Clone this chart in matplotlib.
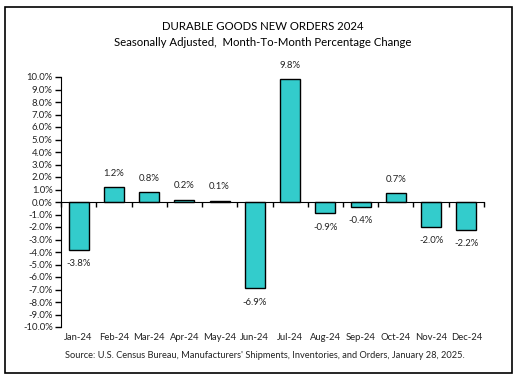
import numpy as np
import matplotlib.pyplot as plt
from matplotlib.patches import Rectangle
from matplotlib.ticker import FuncFormatter, MultipleLocator
import matplotlib.transforms as mtransforms

plt.rcParams['font.family'] = ['Lato', 'DejaVu Sans']

# Data
months = ["Jan-24", "Feb-24", "Mar-24", "Apr-24", "May-24", "Jun-24",
          "Jul-24", "Aug-24", "Sep-24", "Oct-24", "Nov-24", "Dec-24"]
change = [-3.8, 1.2, 0.8, 0.2, 0.1, -6.9, 9.8, -0.9, -0.4, 0.7, -2.0, -2.2]

title1 = "DURABLE GOODS NEW ORDERS 2024"
title2 = "Seasonally Adjusted,  Month-To-Month Percentage Change"
source = "Source: U.S. Census Bureau, Manufacturers' Shipments, Inventories, and Orders, January 28, 2025."

W, H = 519, 379
fig = plt.figure(figsize=(W / 100, H / 100), dpi=100)

# outer frame
fig.patches.append(Rectangle((5 / W, 1 - 373 / H), 507 / W, 366 / H,
                             transform=fig.transFigure, fill=False,
                             edgecolor='black', linewidth=1.2))

ax = fig.add_axes([61 / W, 1 - 327 / H, 423 / W, 250 / H])

x = np.arange(len(months))
ax.bar(x, change, width=0.57, color='#33CCCC', edgecolor='black', linewidth=1.0, zorder=3)

ax.set_xlim(-0.5, len(months) - 0.5)
ax.set_ylim(-10, 10)
ax.yaxis.set_major_locator(MultipleLocator(1))
ax.yaxis.set_major_formatter(FuncFormatter(lambda v, p: f"{v:.1f}%"))
ax.tick_params(axis='y', direction='out', length=4, width=1, labelsize=6.8,
               labelcolor='#222222', pad=2)

# x axis on the zero line, ticks at category boundaries
ax.spines['bottom'].set_position(('data', 0))
ax.spines['top'].set_visible(False)
ax.spines['right'].set_visible(False)
ax.spines['bottom'].set_zorder(4)
ax.set_xticks(np.arange(-0.5, len(months), 1.0))
ax.set_xticklabels([])
ax.tick_params(axis='x', direction='out', length=3.5, width=1)

trans = mtransforms.blended_transform_factory(ax.transData, ax.transAxes)
for i, m in enumerate(months):
    ax.text(i, -0.04, m, transform=trans, ha='center', va='center',
            fontsize=6.8, color='#222222')

for i, v in enumerate(change):
    off = 10 if v >= 0 else -10
    ax.annotate(f"{v:.1f}%", (i, v), xytext=(0, off), textcoords='offset points',
                ha='center', va='center', fontsize=6.8, color='#222222')

fig.text(263 / W, 1 - 26 / H, title1, ha='center', va='center', fontsize=8.2)
fig.text(263 / W, 1 - 42 / H, title2, ha='center', va='center', fontsize=8.2)
fig.text(265 / W, 1 - 356 / H, source, ha='center', va='center', fontsize=6.7,
         color='#222222')

fig.savefig("out.png", dpi=100)
